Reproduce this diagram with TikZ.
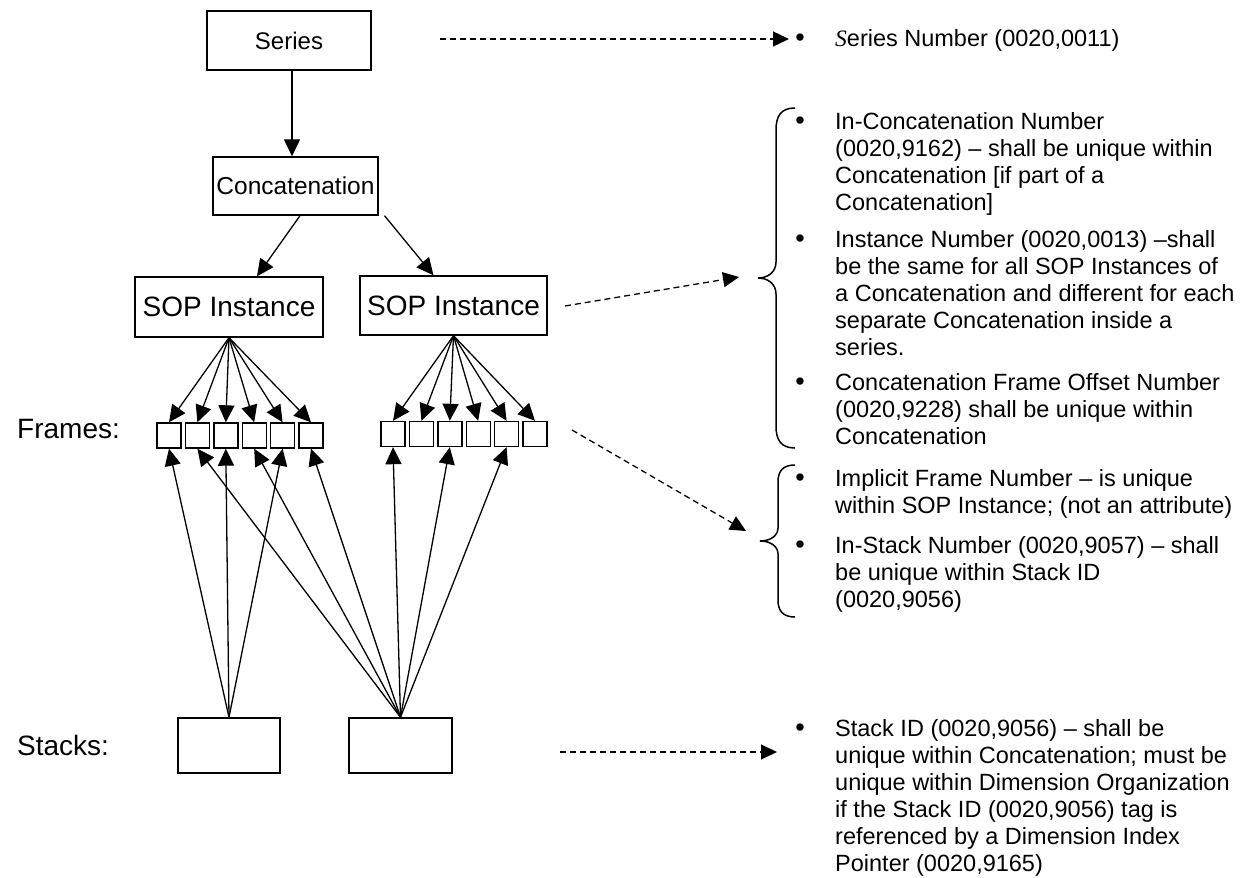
\documentclass[tikz,border=0pt]{standalone}
\usepackage{fontspec}
\setmainfont{Liberation Sans}
\newfontfamily\tnr{Liberation Serif}
\usetikzlibrary{arrows.meta}
\begin{document}
\begin{tikzpicture}[x=1pt,y=-1pt,
  box/.style={draw, line width=1.4pt, inner sep=0pt},
  frm/.style={draw, line width=1.4pt, minimum width=24pt, minimum height=25pt, inner sep=0pt},
  arr/.style={line width=1.3pt, -{Triangle[length=17pt,width=16pt]}},
  darr/.style={line width=1.3pt, dash pattern=on 6pt off 4pt, -{Triangle[length=16pt,width=15pt]}},
  txt/.style={anchor=base west, inner sep=0pt, font=\fontsize{23.5}{27}\selectfont},
  bul/.style={anchor=base, inner sep=0pt, font=\fontsize{27}{27}\selectfont},
  lbl/.style={anchor=base west, inner sep=0pt, font=\fontsize{28}{32}\selectfont},
  brace/.style={line width=1.5pt}]
\useasboundingbox (0,0) rectangle (1251,878);

% hierarchy boxes
\node[box, minimum width=164pt, minimum height=59pt, font=\fontsize{24}{28}\selectfont] (series) at (289,40.5) {Series};
\node[box, minimum width=165pt, minimum height=58pt, font=\fontsize{24.5}{28}\selectfont] (conc) at (295.5,186) {Concatenation};
\node[box, minimum width=188pt, minimum height=60pt, font=\fontsize{28}{32}\selectfont] (sopL) at (229,307) {SOP Instance};
\node[box, minimum width=187pt, minimum height=59pt, font=\fontsize{28}{32}\selectfont] (sopR) at (453.5,305.5) {SOP Instance};

\draw[arr] ([xshift=3pt]series.south) -- ([xshift=-3.5pt]conc.north);
\draw[arr] ([xshift=4.5pt]conc.south) -- ([xshift=28pt]sopL.north);
\draw[arr] ([xshift=89pt]conc.south) -- ([xshift=-20pt]sopR.north);

% frames
\foreach \i in {1,...,6} {
  \node[frm] (L\i) at ({169+28.4*(\i-1)},435.5) {};
  \node[frm] (R\i) at ({393+28.4*(\i-1)},434) {};
}
\foreach \i in {1,...,6} {
  \draw[arr] (sopL.south) -- (L\i.north);
  \draw[arr] (sopR.south) -- (R\i.north);
}

% stacks
\node[box, minimum width=102pt, minimum height=55pt] (stL) at (229,745.5) {};
\node[box, minimum width=103pt, minimum height=55pt] (stR) at (400.5,745.5) {};
\foreach \f in {L1,L3,L5} \draw[arr] (stL.north) -- (\f.south);
\foreach \f in {L2,L4,L6,R1,R3,R5} \draw[arr] (stR.north) -- (\f.south);

% labels
\node[lbl] (flabel) at (17,438) {Frames:};
\node[lbl] (slabel) at (17,755) {Stacks:};

% dashed connectors
\coordinate (d1s) at (440,39);  \coordinate (d1e) at (789,39);
\coordinate (d2s) at (565,306); \coordinate (d2e) at (739,277);
\coordinate (d3s) at (572,430); \coordinate (d3e) at (746,531);
\coordinate (d4s) at (560,752); \coordinate (d4e) at (777,752);
\draw[darr] (d1s) -- (d1e);
\draw[darr] (d2s) -- (d2e);
\draw[darr] (d3s) -- (d3e);
\draw[darr] (d4s) -- (d4e);

% braces
\draw[brace] (795,108) .. controls (781,108) and (776,116) .. (776,130) -- (776,262)
  .. controls (776,272) and (768,278) .. (758,278)
  .. controls (768,278) and (776,284) .. (776,294) -- (776,426)
  .. controls (776,440) and (781,448) .. (795,448);
\draw[brace] (795,465) .. controls (783,465) and (778,471) .. (778,482) -- (778,528)
  .. controls (778,536) and (770,541) .. (760,541)
  .. controls (770,541) and (778,546) .. (778,554) -- (778,600)
  .. controls (778,611) and (783,617) .. (795,617);

% right-hand texts
\node[bul] (b0) at (800,46) {\textbullet};
\node[txt] (t0) at (835,46) {{\tnr\itshape S}eries Number (0020,0011)};

\node[bul] (b1) at (800,129) {\textbullet};
\node[txt] (t1a) at (835,129) {In-Concatenation Number};
\node[txt] (t1b) at (835,156) {(0020,9162) – shall be unique within};
\node[txt] (t1c) at (835,183) {Concatenation [if part of a};
\node[txt] (t1d) at (835,210) {Concatenation]};

\node[bul] (b2) at (800,247) {\textbullet};
\node[txt] (t2a) at (835,247) {Instance Number (0020,0013) –shall};
\node[txt] (t2b) at (835,274) {be the same for all SOP Instances of};
\node[txt] (t2c) at (835,301) {a Concatenation and different for each};
\node[txt] (t2d) at (835,328) {separate Concatenation inside a};
\node[txt] (t2e) at (835,355) {series.};

\node[bul] (b3) at (800,390) {\textbullet};
\node[txt] (t3a) at (835,390) {Concatenation Frame Offset Number};
\node[txt] (t3b) at (835,417) {(0020,9228) shall be unique within};
\node[txt] (t3c) at (835,444) {Concatenation};

\node[bul] (b4) at (800,486) {\textbullet};
\node[txt] (t4a) at (835,486) {Implicit Frame Number – is unique};
\node[txt] (t4b) at (835,513) {within SOP Instance; (not an attribute)};

\node[bul] (b5) at (800,553) {\textbullet};
\node[txt] (t5a) at (835,553) {In-Stack Number (0020,9057) – shall};
\node[txt] (t5b) at (835,580) {be unique within Stack ID};
\node[txt] (t5c) at (835,607) {(0020,9056)};

\node[bul] (b6) at (800,736) {\textbullet};
\node[txt] (t6a) at (835,736) {Stack ID (0020,9056) – shall be};
\node[txt] (t6b) at (835,763) {unique within Concatenation; must be};
\node[txt] (t6c) at (835,790) {unique within Dimension Organization};
\node[txt] (t6d) at (835,817) {if the Stack ID (0020,9056) tag is};
\node[txt] (t6e) at (835,844) {referenced by a Dimension Index};
\node[txt] (t6f) at (835,871) {Pointer (0020,9165)};
\end{tikzpicture}
\end{document}
